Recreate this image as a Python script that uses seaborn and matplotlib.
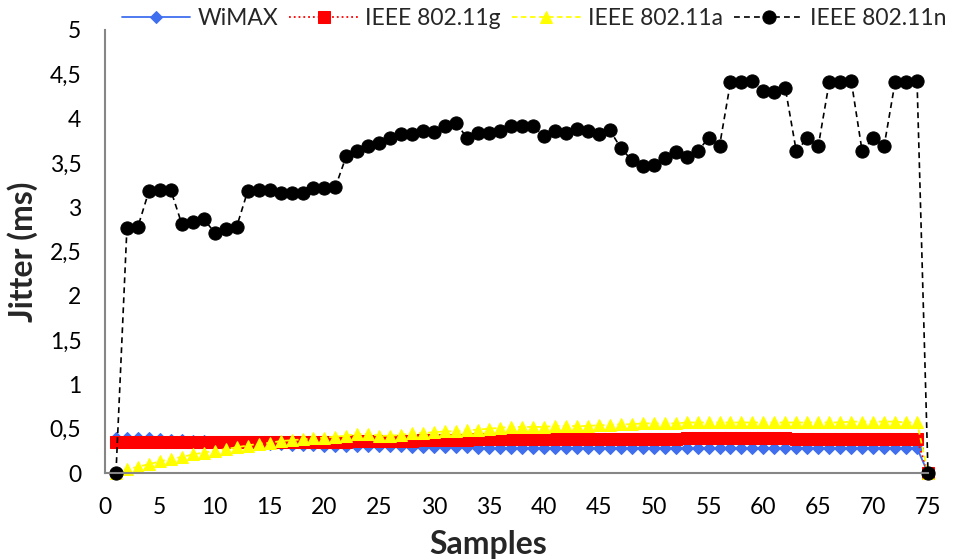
import numpy as np
import pandas as pd
import matplotlib
matplotlib.use("Agg")
import matplotlib.pyplot as plt
from matplotlib.ticker import FuncFormatter, MultipleLocator
import seaborn as sns

samples = list(range(1, 76))

wimax = [0.40, 0.40, 0.39, 0.39, 0.38, 0.37, 0.37, 0.36, 0.36, 0.35,
         0.35, 0.34, 0.34, 0.33, 0.33, 0.33, 0.32, 0.32, 0.32, 0.31,
         0.31, 0.31, 0.30, 0.30, 0.30, 0.30, 0.30, 0.29, 0.29, 0.29,
         0.29, 0.29, 0.29, 0.28, 0.28, 0.28, 0.28, 0.28, 0.28, 0.28,
         0.28, 0.28, 0.28, 0.28, 0.28, 0.28, 0.28, 0.28, 0.28, 0.28,
         0.28, 0.28, 0.28, 0.28, 0.28, 0.28, 0.28, 0.28, 0.28, 0.28,
         0.28, 0.28, 0.28, 0.28, 0.28, 0.28, 0.28, 0.28, 0.28, 0.28,
         0.28, 0.28, 0.28, 0.28, 0.0]

ieee_g = [0.35, 0.35, 0.35, 0.35, 0.35, 0.35, 0.35, 0.35, 0.35, 0.35,
          0.35, 0.35, 0.35, 0.35, 0.35, 0.35, 0.35, 0.35, 0.35, 0.35,
          0.35, 0.35, 0.36, 0.36, 0.36, 0.36, 0.36, 0.36, 0.37, 0.37,
          0.37, 0.37, 0.37, 0.38, 0.38, 0.38, 0.38, 0.38, 0.38, 0.38,
          0.38, 0.38, 0.38, 0.385, 0.385, 0.385, 0.385, 0.385, 0.38, 0.38,
          0.38, 0.38, 0.39, 0.39, 0.39, 0.39, 0.39, 0.39, 0.39, 0.39,
          0.39, 0.39, 0.38, 0.38, 0.38, 0.38, 0.38, 0.38, 0.38, 0.38,
          0.38, 0.38, 0.38, 0.38, 0.0]

ieee_a = [0.00, 0.04, 0.07, 0.10, 0.13, 0.16, 0.18, 0.21, 0.23, 0.25,
          0.27, 0.29, 0.31, 0.33, 0.34, 0.36, 0.37, 0.38, 0.39, 0.40,
          0.41, 0.42, 0.44, 0.44, 0.42, 0.42, 0.43, 0.45, 0.45, 0.46,
          0.47, 0.47, 0.48, 0.49, 0.50, 0.51, 0.52, 0.52, 0.52, 0.52,
          0.53, 0.53, 0.53, 0.53, 0.54, 0.54, 0.55, 0.55, 0.56, 0.56,
          0.56, 0.56, 0.57, 0.57, 0.57, 0.57, 0.57, 0.57, 0.57, 0.57,
          0.57, 0.57, 0.57, 0.57, 0.57, 0.57, 0.57, 0.58, 0.58, 0.58,
          0.58, 0.58, 0.57, 0.57, 0.0]

ieee_n = [0.00, 2.77, 2.78, 3.18, 3.19, 3.19, 2.81, 2.83, 2.87, 2.71,
          2.75, 2.78, 3.18, 3.19, 3.19, 3.16, 3.16, 3.16, 3.22, 3.22,
          3.23, 3.58, 3.63, 3.69, 3.72, 3.78, 3.83, 3.83, 3.86, 3.85,
          3.92, 3.95, 3.78, 3.84, 3.84, 3.86, 3.92, 3.92, 3.92, 3.80,
          3.86, 3.84, 3.88, 3.86, 3.83, 3.87, 3.67, 3.53, 3.46, 3.48,
          3.55, 3.62, 3.57, 3.63, 3.78, 3.69, 4.41, 4.41, 4.43, 4.31,
          4.30, 4.34, 3.63, 3.78, 3.69, 4.41, 4.41, 4.43, 3.63, 3.78,
          3.69, 4.41, 4.41, 4.43, 0.0]

series_names = ["WiMAX", "IEEE 802.11g", "IEEE 802.11a", "IEEE 802.11n"]

sns.set_theme(style="white")
plt.rcParams["font.family"] = ["Lato", "DejaVu Sans"]

fig = plt.figure(figsize=(9.62, 5.60), dpi=100)
ax = fig.add_axes([105 / 962, 1 - 473 / 560, 823 / 962, 443 / 560])

styles = [
    dict(color="#3F6FEF", marker="D", markersize=6.5, linestyle="-", linewidth=1.3),
    dict(color="#FF0000", marker="s", markersize=9, linestyle=":", linewidth=1.3),
    dict(color="#FFFF00", marker="^", markersize=9, linestyle=(0, (3, 2)), linewidth=1.3),
    dict(color="#000000", marker="o", markersize=9.5, linestyle=(0, (3.5, 2.5)), linewidth=1.2),
]

for name, vals, st in zip(series_names, [wimax, ieee_g, ieee_a, ieee_n], styles):
    df = pd.DataFrame({"Samples": samples, "Jitter": vals})
    sns.lineplot(data=df, x="Samples", y="Jitter", ax=ax, label=name,
                 color=st["color"], marker=st["marker"], markersize=st["markersize"],
                 markeredgecolor=st["color"], markerfacecolor=st["color"],
                 linestyle=st["linestyle"], linewidth=st["linewidth"],
                 clip_on=False)

ax.set_xlim(0, 75)
ax.set_ylim(0, 5)
ax.xaxis.set_major_locator(MultipleLocator(5))
ax.yaxis.set_major_locator(MultipleLocator(0.5))
ax.yaxis.set_major_formatter(FuncFormatter(lambda v, p: f"{v:g}".replace(".", ",")))

for side in ["top", "right"]:
    ax.spines[side].set_visible(False)
for side in ["left", "bottom"]:
    ax.spines[side].set_color("#868686")
    ax.spines[side].set_linewidth(1.5)

ax.tick_params(axis="both", length=0, labelsize=16.5, colors="black")
ax.tick_params(axis="y", pad=17)
ax.tick_params(axis="x", pad=17)

ax.set_xlabel("Samples", fontsize=23, fontweight="bold")
ax.set_ylabel("Jitter (ms)", fontsize=23, fontweight="bold")
ax.xaxis.set_label_coords(0.465, -0.128)
ax.yaxis.set_label_coords(-0.081, 0.5)

ax.legend(loc="upper center", bbox_to_anchor=(0.555, 1.01), bbox_transform=fig.transFigure,
          ncol=4, frameon=False, fontsize=16.5, handlelength=3.0, columnspacing=0.5,
          handletextpad=0.3, borderaxespad=0.2)

fig.savefig("out.png", dpi=100)
